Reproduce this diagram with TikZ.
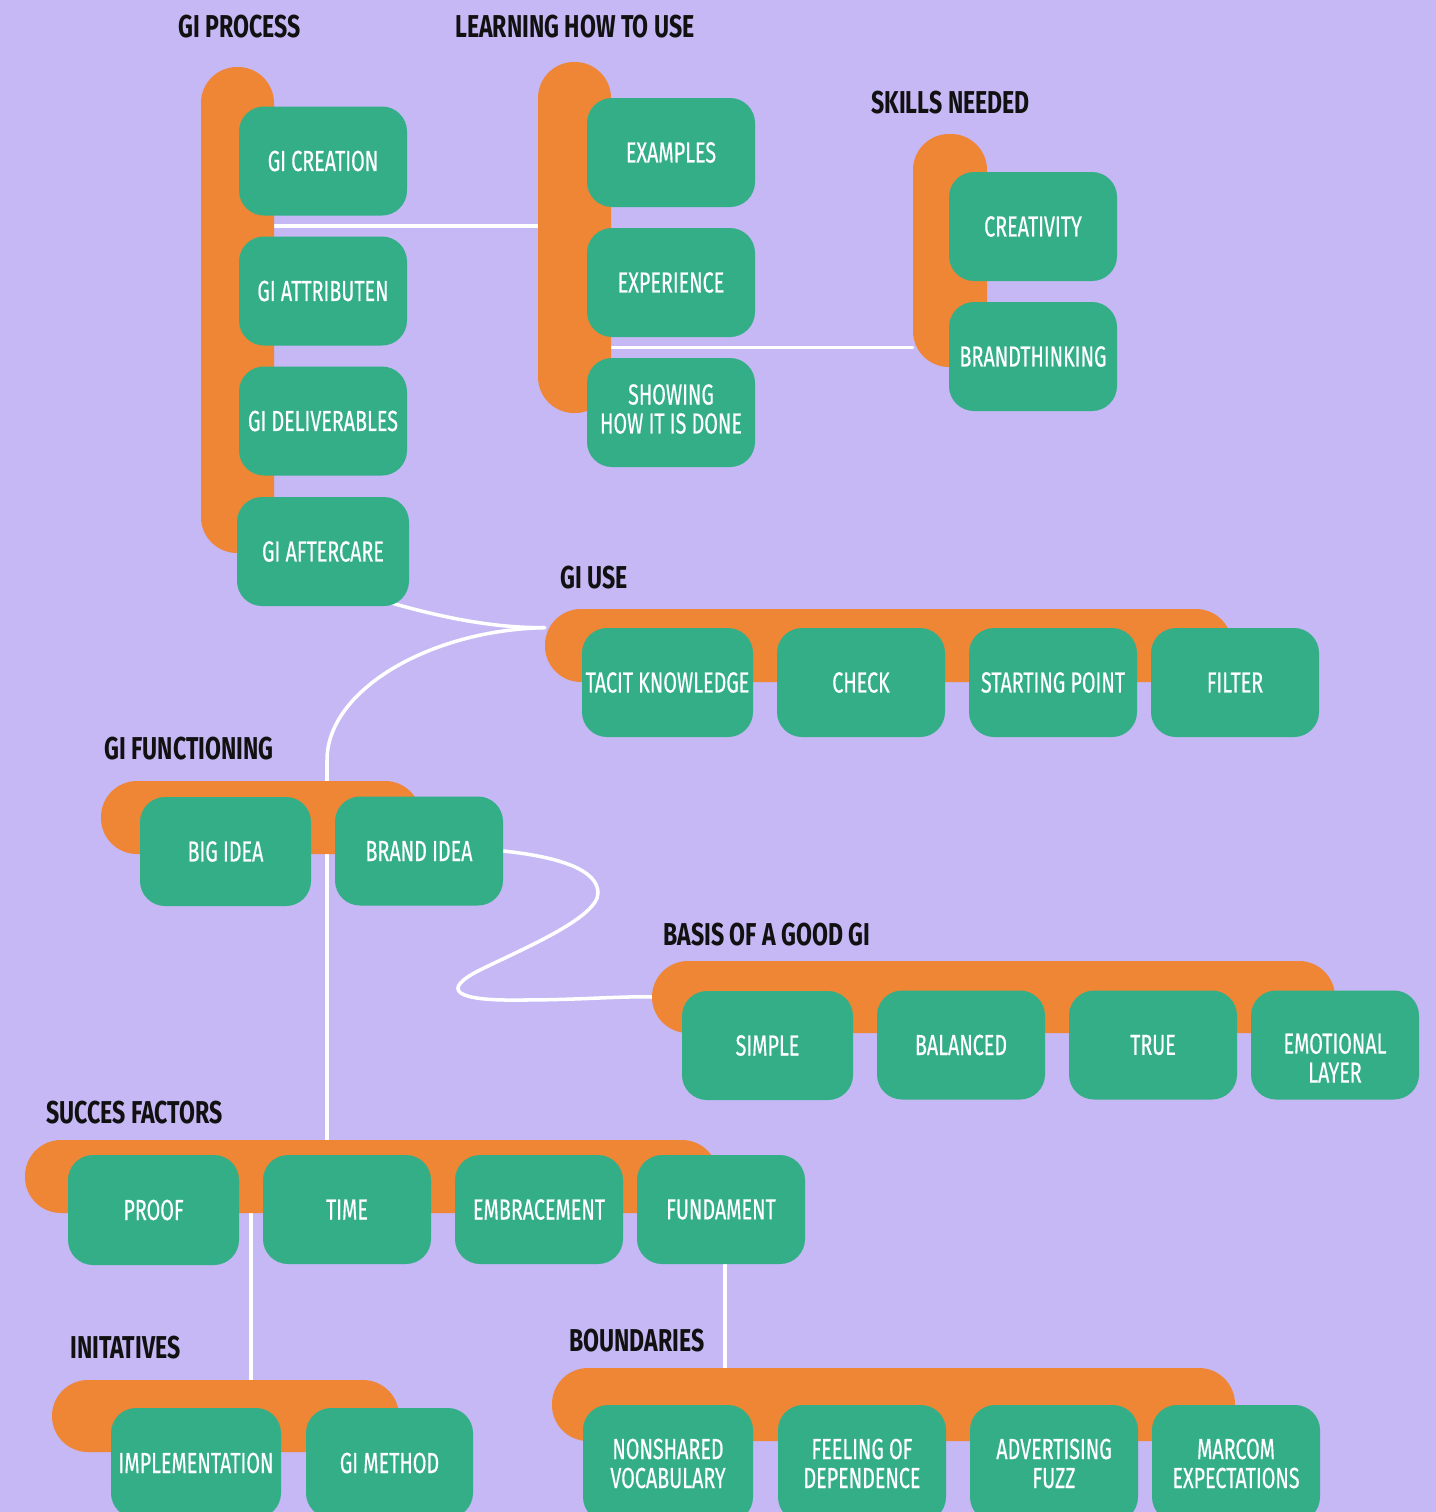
\documentclass[tikz,border=0pt]{standalone}
\usepackage{fontspec}
\newfontfamily\headfont[FakeStretch=0.73]{Fira Sans}
\newfontfamily\boxfont[FakeStretch=0.68, FakeBold=0.4]{Fira Sans}
\usetikzlibrary{calc}
\definecolor{bgc}{HTML}{C5B8F4}
\definecolor{barc}{HTML}{EF8636}
\definecolor{boxc}{HTML}{33AE87}
\definecolor{inkc}{HTML}{111111}
\pgfdeclarelayer{bglayer}
\pgfdeclarelayer{linklayer}
\pgfsetlayers{bglayer,linklayer,main}
\tikzset{
  sz/.style 2 args={minimum width=#1*0.02cm, minimum height=#2*0.02cm},
  bar/.style={rectangle, rounded corners=0.72cm, fill=barc, inner sep=0pt},
  cardtext/.style={inner sep=0pt, text=white, align=center,
    font=\boxfont\fontsize{16.5}{16.5}\selectfont},
  card/.style={cardtext, rectangle, rounded corners=0.5cm, fill=boxc},
  head/.style={anchor=west, inner sep=0pt, text=inkc,
    font=\headfont\bfseries\fontsize{18}{18}\selectfont},
  link/.style={draw=white, line width=2pt, line cap=round},
}
\begin{document}
\begin{tikzpicture}[x=0.02cm, y=-0.02cm]
\useasboundingbox (0,0) rectangle (1436,1512);
\clip (0,0) rectangle (1436,1512);
\begin{pgfonlayer}{bglayer}
  \fill[bgc] (0,0) rectangle (1436,1512);
\end{pgfonlayer}

% headings
\node[head] (hproc)  at (178,27)   {GI PROCESS};
\node[head] (hlearn) at (455,27)   {LEARNING HOW TO USE};
\node[head] (hskill) at (871,103)  {SKILLS NEEDED};
\node[head] (huse)   at (560,578)  {GI USE};
\node[head] (hfunc)  at (104,749)  {GI FUNCTIONING};
\node[head] (hbasis) at (663,935)  {BASIS OF A GOOD GI};
\node[head] (hsucc)  at (46,1113)  {SUCCES FACTORS};
\node[head] (hinit)  at (70,1348)  {INITATIVES};
\node[head] (hbound) at (569,1341) {BOUNDARIES};

% orange group bars
\node[bar, sz={73}{486}]  (procbar)  at (237.5,310)   {};
\node[bar, sz={73}{351}]  (learnbar) at (574.5,237.5) {};
\node[bar, sz={74}{233}]  (skillbar) at (950,250.5)   {};
\node[bar, sz={687}{73}]  (usebar)   at (888.5,645.5) {};
\node[bar, sz={320}{73}]  (funcbar)  at (261,817.5)   {};
\node[bar, sz={683}{72}]  (basisbar) at (993.5,997)   {};
\node[bar, sz={693}{73}]  (succbar)  at (371.5,1176.5){};
\node[bar, sz={347}{72}]  (initbar)  at (225.5,1416)  {};
\node[bar, sz={683}{73}]  (boundbar) at (893.5,1404.5){};

% GI process
\node[card, sz={168}{109}] (creation) at (323,161)   {GI CREATION};
\node[card, sz={168}{109}] (attrib)   at (323,291)   {GI ATTRIBUTEN};
\node[card, sz={168}{109}] (deliv)    at (323,421)   {GI DELIVERABLES};
\node[card, sz={172}{109}] (after)    at (323,551.5) {GI AFTERCARE};
% learning how to use
\node[card, sz={168}{109}] (examples)   at (671,152.5) {EXAMPLES};
\node[card, sz={168}{109}] (experience) at (671,282.5) {EXPERIENCE};
\node[card, sz={168}{109}] (showing)    at (671,412.5) {};
\node[cardtext] (showing-t) at (671,409) {SHOWING\\HOW IT IS DONE};
% skills needed
\node[card, sz={168}{109}] (creativity) at (1033,226.5) {CREATIVITY};
\node[card, sz={168}{109}] (brandth)    at (1033,356.5) {BRANDTHINKING};
% GI use
\node[card, sz={171}{109}] (tacit)    at (667.5,682.5) {TACIT KNOWLEDGE};
\node[card, sz={168}{109}] (check)    at (861,682.5)   {CHECK};
\node[card, sz={168}{109}] (starting) at (1053,682.5)  {STARTING POINT};
\node[card, sz={168}{109}] (filter)   at (1235,682.5)  {FILTER};
% GI functioning
\node[card, sz={171}{109}] (bigidea)   at (225.5,851.5) {BIG IDEA};
\node[card, sz={168}{109}] (brandidea) at (419,851)     {BRAND IDEA};
% basis of a good GI
\node[card, sz={171}{109}] (simple)    at (767.5,1045.5) {SIMPLE};
\node[card, sz={168}{109}] (balanced)  at (961,1045)     {BALANCED};
\node[card, sz={168}{109}] (truebox)   at (1153,1045)    {TRUE};
\node[card, sz={168}{109}] (emotional) at (1335,1045)    {};
\node[cardtext] (emotional-t) at (1335,1058) {EMOTIONAL\\LAYER};
% succes factors
\node[card, sz={171}{110}] (proof)     at (153.5,1210) {PROOF};
\node[card, sz={168}{109}] (timebox)   at (347,1209.5) {TIME};
\node[card, sz={168}{109}] (embrace)   at (539,1209.5) {EMBRACEMENT};
\node[card, sz={168}{109}] (fundament) at (721,1209.5) {FUNDAMENT};
% initatives
\node[card, sz={170}{110}] (implement) at (196,1463)   {IMPLEMENTATION};
\node[card, sz={167}{110}] (gimethod)  at (389.5,1463) {GI METHOD};
% boundaries
\node[card, sz={170}{117}] (nonshared) at (668,1463.5)  {NONSHARED\\VOCABULARY};
\node[card, sz={168}{117}] (feeling)   at (862,1463.5)  {FEELING OF\\DEPENDENCE};
\node[card, sz={168}{117}] (advert)    at (1054,1463.5) {ADVERTISING\\FUZZ};
\node[card, sz={168}{117}] (marcom)    at (1236,1463.5) {MARCOM\\EXPECTATIONS};

% connectors, drawn beneath the bars and cards
\begin{pgfonlayer}{linklayer}
  \coordinate (j1) at ($(creation.south)!.5!(attrib.north)$);
  \draw[link] (procbar.east |- j1) -- (learnbar.west |- j1);
  \coordinate (j2) at ($(experience.south)!.5!(showing.north)$);
  \draw[link] (learnbar.east |- j2) -- (skillbar.west |- j2);
  \coordinate (usein) at (usebar.west |- tacit.north);
  \coordinate (afterout) at ($(after.south east)+(-20,-4)$);
  \draw[link] (afterout) .. controls (450,620) and (500,628) .. (usein);
  \coordinate (fdrop) at (327,760);
  \draw[link] (usein) .. controls (430,630) and (327,690) .. (fdrop)
    -- (fdrop |- succbar.north);
  \draw[link] (brandidea.east) .. controls (560,857) and (598,870) .. (598,893)
    .. controls (598,918) and (520,950) .. (480,970)
    .. controls (440,990) and (455,1001) .. (520,1000)
    .. controls (580,1000) and (620,996) .. (basisbar.west);
  \coordinate (g1) at ($(proof.east)!.5!(timebox.west)$);
  \draw[link] (g1) -- (g1 |- initbar.north);
  \draw[link] ([xshift=0.08cm]fundament.south) -- ([xshift=0.08cm]fundament.south |- boundbar.north);
\end{pgfonlayer}
\end{tikzpicture}
\end{document}
